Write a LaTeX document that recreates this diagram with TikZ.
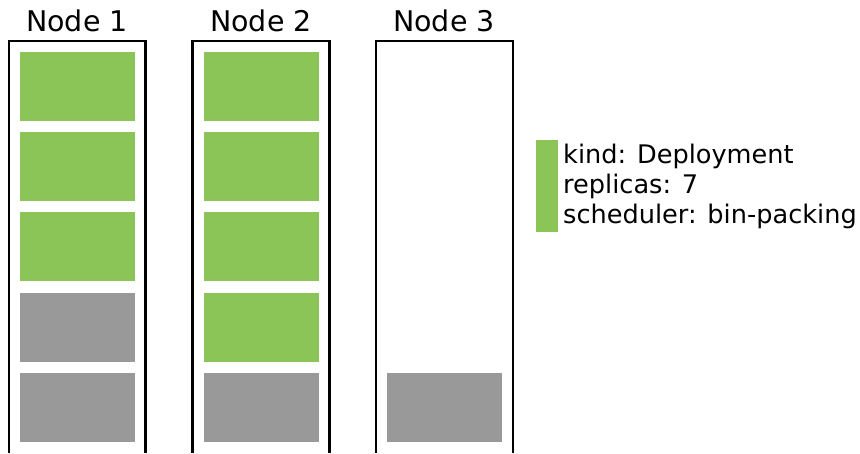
\documentclass[tikz,border=0pt]{standalone}
\usepackage{fontspec}
\setmainfont{DejaVu Sans}
\definecolor{podgreen}{HTML}{8BC557}
\definecolor{podgray}{HTML}{999999}
\begin{document}
\begin{tikzpicture}[x=1pt,y=-1pt,
  pod/.style={rectangle, inner sep=0pt, minimum width=115pt, minimum height=69pt, draw=none},
  greenpod/.style={pod, fill=podgreen},
  graypod/.style={pod, fill=podgray},
  nodebox/.style={draw=black, line width=2.5pt},
  title/.style={anchor=base, inner sep=0pt, font=\fontsize{28.5}{32}\selectfont},
  legend/.style={anchor=base west, inner sep=0pt, font=\fontsize{25.6}{30}\selectfont}]
\useasboundingbox (0,0) rectangle (860,453);
% node boxes (bottom runs past the picture edge)
\draw[nodebox] (9,453) -- (9,41) -- (145.7,41) -- (145.7,453);
\draw[nodebox] (192.5,453) -- (192.5,41) -- (329.5,41) -- (329.5,453);
\draw[nodebox] (376,453) -- (376,41) -- (513,41) -- (513,453);
% titles
\node[title] (t1) at (77,31) {Node 1};
\node[title] (t2) at (261,31) {Node 2};
\node[title] (t3) at (444,31) {Node 3};
% Node 1 pods
\node[greenpod] (a1) at (77.5,86.5) {};
\node[greenpod] (a2) at (77.5,166.5) {};
\node[greenpod] (a3) at (77.5,246.5) {};
\node[graypod]  (a4) at (77.5,327.5) {};
\node[graypod]  (a5) at (77.5,407.5) {};
% Node 2 pods
\node[greenpod] (b1) at (261,86.5) {};
\node[greenpod] (b2) at (261,166.5) {};
\node[greenpod] (b3) at (261,246.5) {};
\node[greenpod] (b4) at (261,327.5) {};
\node[graypod]  (b5) at (261,407.5) {};
% Node 3 pods
\node[graypod]  (c5) at (444.5,407.5) {};
% legend
\node[rectangle, inner sep=0pt, fill=podgreen, minimum width=22pt, minimum height=92pt] (lg) at (547,186) {};
\node[legend] (l1) at (563,163) {kind: Deployment};
\node[legend] (l2) at (563,193) {replicas: 7};
\node[legend] (l3) at (563,223) {scheduler: bin-packing};
\end{tikzpicture}
\end{document}
